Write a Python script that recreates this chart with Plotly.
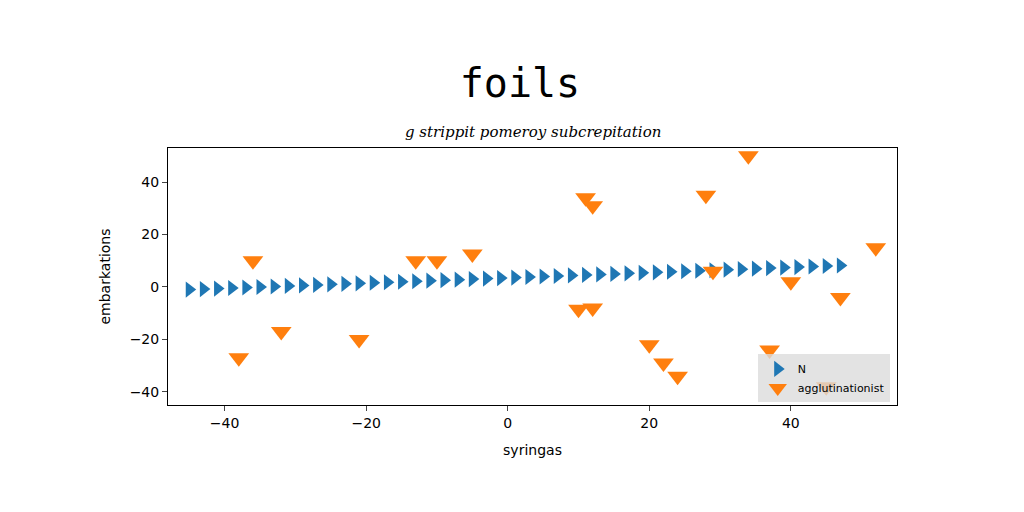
import numpy as np
import plotly.graph_objects as go

# blue series "N"
n_x = [-45, -43, -41, -39, -37, -35, -33, -31, -29, -27, -25, -23, -21, -19, -17, -15,
       -13, -11, -9, -7, -5, -3, -1, 1, 3, 5, 7, 9, 11, 13, 15, 17, 19, 21, 23, 25,
       27, 29, 31, 33, 35, 37, 39, 41, 43, 45, 47]
n_y = [-1.0, -0.8, -0.6, -0.4, -0.2, 0.0, 0.2, 0.4, 0.6, 0.8, 1.0, 1.2, 1.4, 1.6, 1.8, 2.0,
       2.2, 2.4, 2.6, 2.8, 3.0, 3.2, 3.4, 3.6, 3.8, 4.0, 4.2, 4.4, 4.6, 4.8, 5.0, 5.2,
       5.4, 5.6, 5.8, 6.0, 6.2, 6.4, 6.6, 6.8, 7.0, 7.2, 7.4, 7.6, 7.8, 8.0, 8.2]

# orange series "agglutinationist"
a_x = [-38, -36, -32, -21, -13, -10, -5, 10, 11, 12, 12, 20, 22, 24, 28, 29, 34, 37, 40, 47, 45, 52]
a_y = [-27, 10, -17, -20, 10, 10, 12.6, -8.5, 34, 31, -8, -22, -29, -34, 35, 6, 50, -24, 2, -4, -38, 15]

fig = go.Figure()
fig.add_trace(go.Scatter(x=n_x, y=n_y, mode="markers", name="N",
                         marker=dict(symbol="triangle-right", size=14, color="#1f77b4")))
fig.add_trace(go.Scatter(x=a_x, y=a_y, mode="markers", name="agglutinationist",
                         marker=dict(symbol="triangle-down", size=18, color="#ff7f0e")))

fig.update_layout(
    width=1024, height=512,
    paper_bgcolor="white", plot_bgcolor="white",
    margin=dict(l=160, r=135, t=140, b=115),
    title=dict(text="foils", x=0.5, y=0.88, xanchor="center",
               font=dict(family="DejaVu Sans Mono", size=40, color="black")),
    annotations=[dict(text="<i>g strippit pomeroy subcrepitation</i>", xref="paper", yref="paper",
                      x=0.5, y=1.02, xanchor="center", yanchor="bottom", showarrow=False,
                      font=dict(family="DejaVu Serif", size=15, color="black"))],
    xaxis=dict(title=dict(text="syringas", font=dict(size=14)), range=[-48, 55],
               tickvals=[-40, -20, 0, 20, 40], showgrid=False, zeroline=False,
               showline=True, linecolor="black", mirror=True, ticks="outside",
               tickfont=dict(size=14)),
    yaxis=dict(title=dict(text="embarkations", font=dict(size=14)), range=[-45, 53],
               tickvals=[-40, -20, 0, 20, 40], showgrid=False, zeroline=False,
               showline=True, linecolor="black", mirror=True, ticks="outside",
               tickfont=dict(size=14)),
    legend=dict(x=0.99, y=0.01, xanchor="right", yanchor="bottom",
                bgcolor="rgba(220,220,220,0.8)", font=dict(size=11)),
    font=dict(family="DejaVu Sans", color="black"),
)

fig.write_html("out.html")
